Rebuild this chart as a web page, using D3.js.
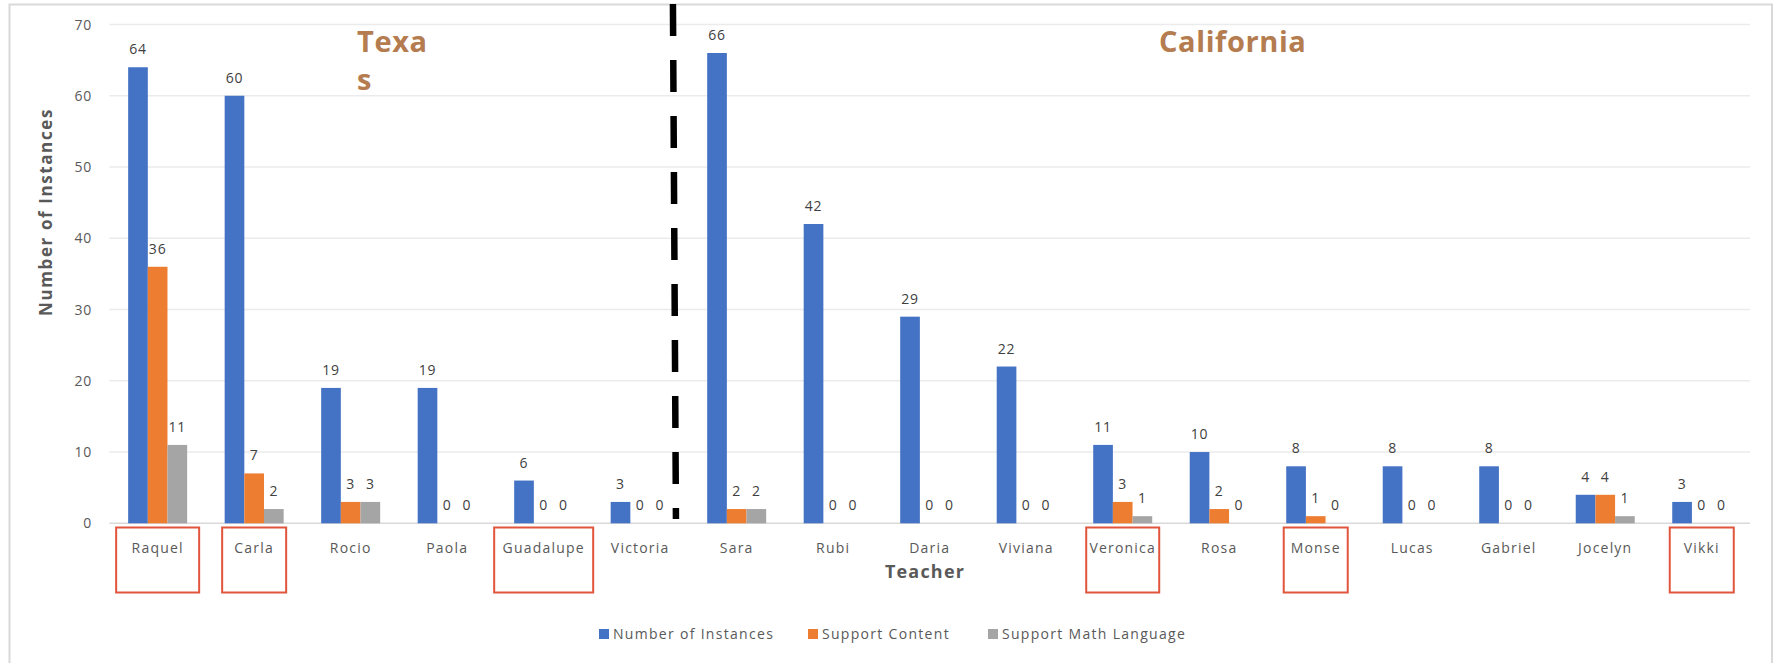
<!DOCTYPE html>
<html>
<head>
<meta charset="utf-8">
<script src="https://cdn.jsdelivr.net/npm/d3@7"></script>
<style>
  html, body { margin: 0; padding: 0; background: #fff; }
  svg { display: block; font-family: "Open Sans", "Liberation Sans", sans-serif; }
</style>
</head>
<body>
<svg id="chart" width="1775" height="663"></svg>
<script>
// data
var teachers = ['Raquel', 'Carla', 'Rocio', 'Paola', 'Guadalupe', 'Victoria', 'Sara', 'Rubi',
  'Daria', 'Viviana', 'Veronica', 'Rosa', 'Monse', 'Lucas', 'Gabriel', 'Jocelyn', 'Vikki'];
var seriesNames = ['Number of Instances', 'Support Content', 'Support Math Language'];
var instances = [64, 60, 19, 19, 6, 3, 66, 42, 29, 22, 11, 10, 8, 8, 8, 4, 3];
var supportContent = [36, 7, 3, 0, 0, 0, 2, 0, 0, 0, 3, 2, 1, 0, 0, 4, 0];
var supportMath = [11, 2, 3, 0, 0, 0, 2, 0, 0, 0, 1, 0, 0, 0, 0, 1, 0];
var yTicks = [0, 10, 20, 30, 40, 50, 60, 70];
var boxedTeachers = ['Raquel', 'Carla', 'Guadalupe', 'Veronica', 'Monse', 'Vikki'];

var colors = ['#4472C4', '#ED7D31', '#A5A5A5'];
var seriesValues = [instances, supportContent, supportMath];

var svg = d3.select('#chart');
var plot = { left: 109.4, right: 1750, top: 24.5, bottom: 523.3 };

var y = d3.scaleLinear().domain([0, 70]).range([plot.bottom, plot.top]);
var x0 = d3.scaleBand().domain(teachers).range([plot.left, plot.right]).padding(0);
var groupW = 59;
var x1 = d3.scaleBand().domain(seriesNames)
  .range([(x0.bandwidth() - groupW) / 2, (x0.bandwidth() + groupW) / 2]);

// outer frame (no bottom edge visible)
svg.append('path')
  .attr('d', 'M9.5,663 V4.5 H1772 V663')
  .attr('fill', 'none')
  .attr('stroke', '#d9d9d9')
  .attr('stroke-width', 2);

// gridlines
svg.append('g').selectAll('line')
  .data(yTicks)
  .enter()
  .append('line')
  .attr('x1', plot.left)
  .attr('x2', plot.right)
  .attr('y1', y)
  .attr('y2', y)
  .attr('stroke', function (d) { return d === 0 ? '#d9d9d9' : '#ebebeb'; })
  .attr('stroke-width', 1.5);

// y tick labels
svg.append('g').selectAll('text')
  .data(yTicks)
  .enter()
  .append('text')
  .attr('x', 92)
  .attr('y', function (d) { return y(d) + 5; })
  .attr('text-anchor', 'end')
  .attr('font-size', 14)
  .attr('letter-spacing', 0.8)
  .attr('fill', '#595959')
  .text(function (d) { return d; });

// bars
var rows = teachers.map(function (t, i) {
  return { teacher: t, values: seriesNames.map(function (s, j) {
    return { series: s, idx: j, value: seriesValues[j][i] };
  }) };
});

var groups = svg.append('g').selectAll('g')
  .data(rows)
  .enter()
  .append('g')
  .attr('transform', function (d) { return 'translate(' + x0(d.teacher) + ',0)'; });

groups.selectAll('rect')
  .data(function (d) { return d.values; })
  .enter()
  .append('rect')
  .attr('x', function (d) { return x1(d.series); })
  .attr('width', x1.bandwidth())
  .attr('y', function (d) { return y(d.value); })
  .attr('height', function (d) { return y(0) - y(d.value); })
  .attr('fill', function (d) { return colors[d.idx]; });

groups.selectAll('text')
  .data(function (d) { return d.values; })
  .enter()
  .append('text')
  .attr('x', function (d) { return x1(d.series) + x1.bandwidth() / 2; })
  .attr('y', function (d) { return y(d.value) - 13; })
  .attr('text-anchor', 'middle')
  .attr('font-size', 14)
  .attr('letter-spacing', 0.8)
  .attr('fill', '#404040')
  .text(function (d) { return d.value; });

// category labels
svg.append('g').selectAll('text')
  .data(teachers)
  .enter()
  .append('text')
  .attr('x', function (d) { return x0(d) + x0.bandwidth() / 2; })
  .attr('y', 553)
  .attr('text-anchor', 'middle')
  .attr('font-size', 14)
  .attr('letter-spacing', 1.2)
  .attr('fill', '#595959')
  .text(function (d) { return d; });

// red boxes around some names
var boxWidth = { Raquel: 83, Carla: 64, Guadalupe: 99, Veronica: 73, Monse: 64, Vikki: 64 };
svg.append('g').selectAll('rect')
  .data(boxedTeachers)
  .enter()
  .append('rect')
  .attr('x', function (d) { return x0(d) + x0.bandwidth() / 2 - boxWidth[d] / 2; })
  .attr('y', 527.5)
  .attr('width', function (d) { return boxWidth[d]; })
  .attr('height', 65)
  .attr('fill', 'none')
  .attr('stroke', '#E2553D')
  .attr('stroke-width', 2);

// axis titles
svg.append('text')
  .attr('transform', 'translate(52,212) rotate(-90)')
  .attr('text-anchor', 'middle')
  .attr('font-size', 17)
  .attr('font-weight', 'bold')
  .attr('letter-spacing', 1.6)
  .attr('fill', '#595959')
  .text('Number of Instances');

svg.append('text')
  .attr('x', 925)
  .attr('y', 578)
  .attr('text-anchor', 'middle')
  .attr('font-size', 18)
  .attr('font-weight', 'bold')
  .attr('letter-spacing', 1.2)
  .attr('fill', '#595959')
  .text('Teacher');

// dashed divider between Texas and California
var divX = x0('Sara') - 14;
svg.append('line')
  .attr('x1', divX - 1.5)
  .attr('y1', 4)
  .attr('x2', divX + 1.5)
  .attr('y2', 519)
  .attr('stroke', '#000')
  .attr('stroke-width', 6.5)
  .attr('stroke-dasharray', '32 24');

// region labels
var regionColor = '#B47C4F';
var texas = svg.append('text')
  .attr('x', 357)
  .attr('font-size', 29)
  .attr('font-weight', 'bold')
  .attr('letter-spacing', 0.6)
  .attr('fill', regionColor);
texas.append('tspan').attr('x', 357).attr('y', 52).text('Texa');
texas.append('tspan').attr('x', 357).attr('y', 90).text('s');

svg.append('text')
  .attr('x', 1159)
  .attr('y', 52)
  .attr('font-size', 29)
  .attr('font-weight', 'bold')
  .attr('letter-spacing', 0.6)
  .attr('fill', regionColor)
  .text('California');

// legend
var legendX = [599, 808, 988];
var legend = svg.append('g').selectAll('g')
  .data(seriesNames)
  .enter()
  .append('g')
  .attr('transform', function (d, i) { return 'translate(' + legendX[i] + ',629)'; });
legend.append('rect')
  .attr('width', 10)
  .attr('height', 10)
  .attr('fill', function (d, i) { return colors[i]; });
legend.append('text')
  .attr('x', 14)
  .attr('y', 10)
  .attr('font-size', 14)
  .attr('letter-spacing', 1.3)
  .attr('fill', '#595959')
  .text(function (d) { return d; });
</script>
</body>
</html>
